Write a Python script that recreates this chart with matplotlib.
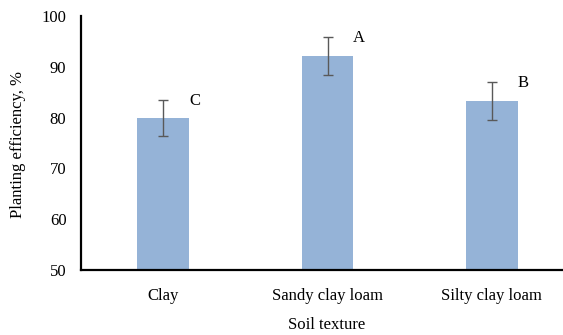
import matplotlib
matplotlib.use("Agg")
import matplotlib.pyplot as plt

categories = ["Clay", "Sandy clay loam", "Silty clay loam"]
values = [79.9, 92.1, 83.3]
errors = [3.6, 3.7, 3.7]
letters = ["C", "A", "B"]
yticks = [50, 60, 70, 80, 90, 100]

plt.rcParams['font.family'] = ['Liberation Serif', 'DejaVu Serif']

W, H = 563, 335
fig = plt.figure(figsize=(W/100, H/100), dpi=100)
left, right, top, bottom = 81, 574, 16, 270
ax = fig.add_axes([left/W, (H-bottom)/H, (right-left)/W, (bottom-top)/H])

x = list(range(len(categories)))
ax.bar(x, [v - 50 for v in values], bottom=50, width=0.316, color="#95B3D7", zorder=2)
ax.errorbar(x, values, yerr=errors, fmt='none', ecolor="#595959", elinewidth=1.0,
            capsize=3.5, capthick=1.0, zorder=3)
for xi, v, e, l in zip(x, values, errors, letters):
    ax.text(xi + 0.19, v + e - 0.2, l, ha='center', va='center', fontsize=12)

ax.set_xlim(-0.5, 2.5)
ax.set_ylim(50, 100)
ax.set_yticks(yticks)
ax.set_xticks(x)
ax.set_xticklabels(categories, fontsize=12)
ax.tick_params(axis='both', length=0, labelsize=12)
ax.tick_params(axis='y', pad=10.5)
ax.tick_params(axis='x', pad=13)
for s in ['top', 'right']:
    ax.spines[s].set_visible(False)
for s in ['left', 'bottom']:
    ax.spines[s].set_linewidth(1.6)
    ax.spines[s].set_color('black')

fig.text(18/W, 1 - 145/H, "Planting efficiency, %", rotation=90, ha='center', va='center', fontsize=12)
fig.text(327/W, 1 - 325/H, "Soil texture", ha='center', va='center', fontsize=12)

fig.savefig("out.png", dpi=100)
